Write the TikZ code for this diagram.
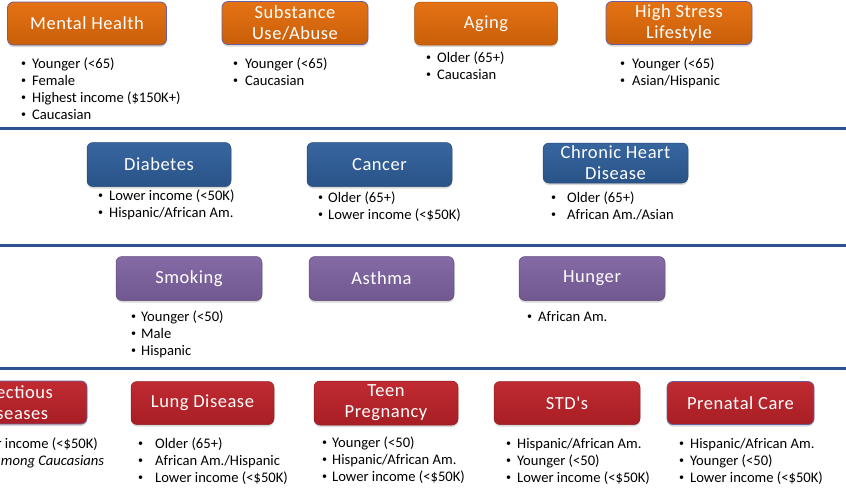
\documentclass[tikz,border=0pt]{standalone}
\usepackage{fontspec}
\setmainfont{Carlito}
\newfontfamily\boxfont[LetterSpace=3]{Carlito}
\usetikzlibrary{shadows}
\definecolor{hdorange}{HTML}{E46C0A}
\definecolor{hdblue}{HTML}{2F5F9B}
\definecolor{hdpurple}{HTML}{8064A2}
\definecolor{hdred}{HTML}{BE2229}
\definecolor{rulecol}{HTML}{2F5290}
\definecolor{rimcol}{HTML}{6A5F9E}
\newcommand{\dotmark}{\raisebox{0.25ex}{\fontsize{10}{10}\selectfont\textbullet}}
\newcommand{\li}[2][11pt]{\makebox[#1][l]{\dotmark}#2}
\begin{document}
\begin{tikzpicture}[x=1pt, y=-1pt, every node/.style={font=\fontsize{14.6}{17}\selectfont},
  topic/.style={rounded corners=6pt, minimum width=146pt, minimum height=43pt, inner sep=1pt, text=white, align=center,
    font=\boxfont\fontsize{18.5}{21}\selectfont, top color=#1!96!white, bottom color=#1!88!black, draw=#1!75!black, line width=0.5pt,
    drop shadow={opacity=0.3, shadow xshift=0pt, shadow yshift=-2pt}},
  rim/.style={draw=rimcol, line width=0.8pt},
  notes/.style={anchor=base west, align=left, inner sep=0pt}]
\useasboundingbox (0,0) rectangle (846,491);
\clip (0,0) rectangle (846,491);
% separators
\foreach \y in {128,245,368} \draw[rulecol, line width=3pt] (0,\y) -- (846,\y);
% row 1
\node[topic=hdorange, rim, minimum width=159pt] (mental) at (87,23.5) {Mental Health};
\node[topic=hdorange, rim] (subst) at (295,23) {Substance\\Use/Abuse};
\node[topic=hdorange, minimum width=143pt] (aging) at (486,23.5) {Aging};
\node[topic=hdorange, rim] (stress) at (679,23) {High Stress\\Lifestyle};
% notes: anchored at the baseline of their last line
\node[notes] (mentalN) at (21,119.5) {\li{Younger (<65)}\\\li{Female}\\\li{Highest income (\$150K+)}\\\li{Caucasian}};
\node[notes] (substN) at (233,85.5) {\li[12pt]{Younger (<65)}\\\li[12pt]{Caucasian}};
\node[notes] (agingN) at (426,79) {\li{Older (65+)}\\\li{Caucasian}};
\node[notes] (stressN) at (620,85) {\li[12pt]{Younger (<65)}\\\li[12pt]{Asian/Hispanic}};
% row 2
\node[topic=hdblue, minimum width=144pt, minimum height=44pt] (diab) at (159,164.5) {Diabetes};
\node[topic=hdblue, minimum width=145pt, minimum height=44pt] (cancer) at (379.5,164.5) {Cancer};
\node[topic=hdblue, minimum width=145pt, minimum height=40pt] (chd) at (615.5,163) {Chronic Heart\\Disease};
\node[notes] (diabN) at (98,217) {\li{Lower income (<50K)}\\\li{Hispanic/African Am.}};
\node[notes] (cancerN) at (318,219.5) {\li[10pt]{Older (65+)}\\\li[10pt]{Lower income (<\$50K)}};
\node[notes] (chdN) at (551,219) {\li[16pt]{Older (65+)}\\\li[16pt]{African Am./Asian}};
% row 3
\node[topic=hdpurple, minimum height=44pt] (smoke) at (189,278.5) {Smoking};
\node[topic=hdpurple, minimum width=145pt, minimum height=44pt] (asthma) at (381.5,278.5) {Asthma};
\node[topic=hdpurple, minimum height=44pt] (hunger) at (592,278.5) {Hunger};
\node[notes] (smokeN) at (131,355) {\li[10pt]{Younger (<50)}\\\li[10pt]{Male}\\\li[10pt]{Hispanic}};
\node[notes] (hungerN) at (527,321.5) {\li{African Am.}};
% row 4
\node[topic=hdred, rim] (infect) at (14,402.5) {Infectious\\Diseases};
\node[topic=hdred, minimum width=143pt] (lung) at (202.5,403) {Lung Disease};
\node[topic=hdred, minimum width=144pt, minimum height=44pt] (teen) at (386,403) {Teen\\Pregnancy};
\node[topic=hdred] (std) at (567,403) {STD's};
\node[topic=hdred, rim, minimum width=147pt] (prenatal) at (740.5,403) {Prenatal Care};
\node[notes] (infectN) at (-46,465.5) {\li{Lower income (<\$50K)}\\\li{\itshape Also among Caucasians}};
\node[notes] (lungN) at (138,482.5) {\li[17pt]{Older (65+)}\\\li[17pt]{African Am./Hispanic}\\\li[17pt]{Lower income (<\$50K)}};
\node[notes] (teenN) at (322,481) {\li[10pt]{Younger (<50)}\\\li[10pt]{Hispanic/African Am.}\\\li[10pt]{Lower income (<\$50K)}};
\node[notes] (stdN) at (506,482.5) {\li{Hispanic/African Am.}\\\li{Younger (<50)}\\\li{Lower income (<\$50K)}};
\node[notes] (prenatalN) at (679,482.5) {\li{Hispanic/African Am.}\\\li{Younger (<50)}\\\li{Lower income (<\$50K)}};
\end{tikzpicture}
\end{document}
